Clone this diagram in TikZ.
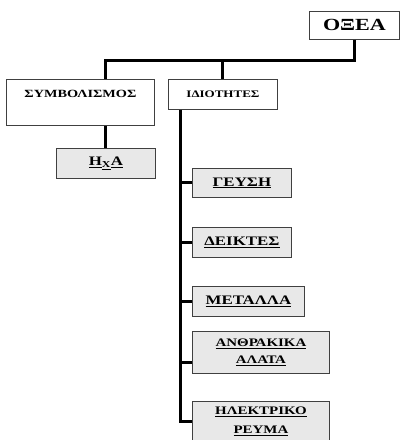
\documentclass[tikz,border=0pt]{standalone}
\usepackage{fontspec}
\setmainfont{Liberation Serif}[FakeStretch=1.3]

\begin{document}
\begin{tikzpicture}
        [x=1pt,
        y=-1pt,
        bus/.style={line width=3pt, color=black},
        plainbox/.style={draw=black!75, line width=0.9pt, fill=white, inner sep=0pt, anchor=north west},
        greybox/.style={draw=black!75, line width=0.9pt, fill=black!9, inner sep=0pt, anchor=north west, align=center}]
%
\useasboundingbox (0,0) rectangle (402,440);
%%
%% The boxes
%%
\node[plainbox, minimum width=90pt, minimum height=28pt, font=\bfseries\fontsize{17}{17}\selectfont] (oxea) at (309,11) {ΟΞΕΑ};

\node[plainbox, minimum width=148pt, minimum height=46pt, inner sep=4pt, text height=14pt, text depth=24pt, font=\bfseries\fontsize{11}{11}\selectfont] (symb) at (6,79) {ΣΥΜΒΟΛΙΣΜΟΣ};
\node[plainbox, minimum width=109pt, minimum height=30pt, font=\bfseries\fontsize{10}{10}\selectfont] (idio) at (168,79) {ΙΔΙΟΤΗΤΕΣ};

\node[greybox, minimum width=99pt, minimum height=30pt, font=\bfseries\fontsize{13}{13}\selectfont] (hxa) at (56,148) {\underline{Η}\underline{\textsubscript{Χ}}\underline{Α}};

\node[greybox, minimum width=99pt, minimum height=29pt, font=\bfseries\fontsize{13}{13}\selectfont] (geusi) at (192,168) {\underline{ΓΕΥΣΗ}};
\node[greybox, minimum width=99pt, minimum height=30pt, font=\bfseries\fontsize{13}{13}\selectfont] (deiktes) at (192,227) {\underline{ΔΕΙΚΤΕΣ}};
\node[greybox, minimum width=112pt, minimum height=30pt, font=\bfseries\fontsize{13}{13}\selectfont] (metalla) at (192,286) {\underline{ΜΕΤΑΛΛΑ}};
\node[greybox, minimum width=137pt, minimum height=42pt, font=\bfseries\fontsize{11.5}{17}\selectfont] (anthr) at (192,331) {\underline{ΑΝΘΡΑΚΙΚΑ}\\\underline{ΑΛΑΤΑ}};
\node[greybox, minimum width=137pt, minimum height=40pt, font=\bfseries\fontsize{11.5}{19}\selectfont] (ilektr) at (192,401) {\underline{ΗΛΕΚΤΡΙΚΟ}\\\underline{ΡΕΥΜΑ}};
%%
%% The connectors
%%
\draw[bus] (oxea.south) -- ++(0,21) coordinate (bus end) -| (symb.north -| hxa.north);
\draw[bus] (idio.north) -- (idio.north |- bus end);
\draw[bus] (symb.south -| hxa.north) -- (hxa.north);

\coordinate (spine top) at ([xshift=12pt]idio.south west);
\draw[bus] (spine top) |- (ilektr.west);
\draw[bus] (geusi.west) -- (geusi.west -| spine top);
\draw[bus] (deiktes.west) -- (deiktes.west -| spine top);
\draw[bus] (metalla.west) -- (metalla.west -| spine top);
\draw[bus] ([yshift=-10pt]anthr.west) -- ([yshift=-10pt]anthr.west -| spine top);
%%
\end{tikzpicture}
\end{document}
